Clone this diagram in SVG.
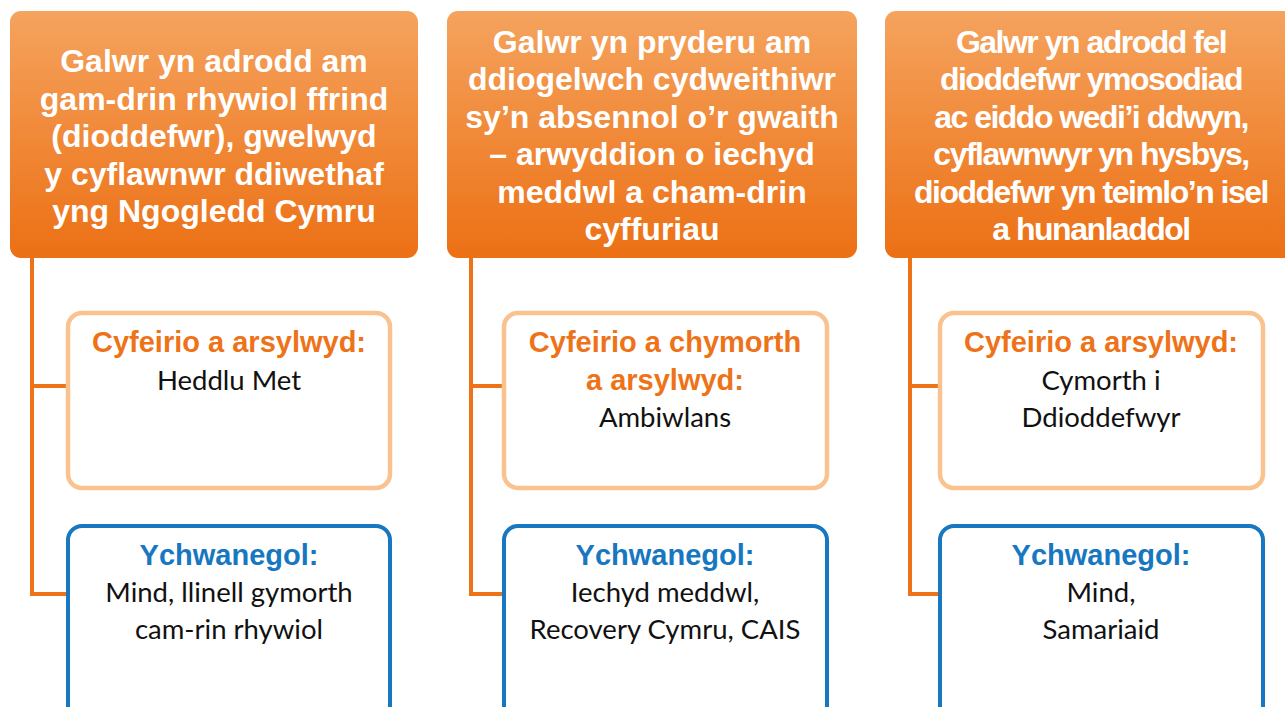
<svg xmlns="http://www.w3.org/2000/svg" width="1285" height="707" viewBox="0 0 1285 707">
<defs>
<linearGradient id="hg" x1="0" y1="0" x2="0" y2="1">
<stop offset="0" stop-color="#F5A35E"/>
<stop offset="1" stop-color="#EC7014"/>
</linearGradient>
</defs>
<style>
.hdr{fill:url(#hg);}
.ht{fill:#fff;font-family:"Liberation Sans",Arial,sans-serif;font-weight:bold;font-size:32px;text-anchor:middle;}
.ob{fill:#fff;stroke:#F9C28F;stroke-width:4.5;}
.bb{fill:#fff;stroke:#1777C0;stroke-width:4;}
.ot{fill:#EE7318;font-family:"Liberation Sans",Arial,sans-serif;font-weight:bold;font-size:29px;text-anchor:middle;}
.bt{fill:#1777C0;font-family:"Liberation Sans",Arial,sans-serif;font-weight:bold;font-size:29px;text-anchor:middle;}
.tx{fill:#111;font-family:Lato,"Open Sans",sans-serif;font-size:27.5px;text-anchor:middle;}
.cn{fill:none;stroke:#EE7318;stroke-width:4;}
</style>
<g id="connectors">
<path class="cn" d="M32 250 V594 H67 M32 386 H67"/>
<path class="cn" d="M471 250 V594 H503 M471 386 H503"/>
<path class="cn" d="M910 250 V594 H939 M910 386 H939"/>
</g>
<g id="header1">
<rect class="hdr" x="10" y="11" width="408" height="247" rx="11"/>
<text class="ht" x="214" y="72">Galwr yn adrodd am</text>
<text class="ht" x="214" y="110">gam-drin rhywiol ffrind</text>
<text class="ht" x="214" y="147">(dioddefwr), gwelwyd</text>
<text class="ht" x="214" y="185">y cyflawnwr ddiwethaf</text>
<text class="ht" x="214" y="222">yng Ngogledd Cymru</text>
</g>
<g id="header2">
<rect class="hdr" x="447" y="11" width="410" height="247" rx="11"/>
<text class="ht" x="652" y="53">Galwr yn pryderu am</text>
<text class="ht" x="652" y="90">ddiogelwch cydweithiwr</text>
<text class="ht" x="652" y="128">sy’n absennol o’r gwaith</text>
<text class="ht" x="652" y="165">– arwyddion o iechyd</text>
<text class="ht" x="652" y="203">meddwl a cham-drin</text>
<text class="ht" x="652" y="240">cyffuriau</text>
</g>
<g id="header3">
<rect class="hdr" x="885" y="11" width="412" height="247" rx="11"/>
<text class="ht" x="1091" y="53" letter-spacing="-1.5">Galwr yn adrodd fel</text>
<text class="ht" x="1091" y="90" letter-spacing="-1.5">dioddefwr ymosodiad</text>
<text class="ht" x="1091" y="128" letter-spacing="-1.5">ac eiddo wedi’i ddwyn,</text>
<text class="ht" x="1091" y="165" letter-spacing="-1.5">cyflawnwyr yn hysbys,</text>
<text class="ht" x="1091" y="203" letter-spacing="-1.5">dioddefwr yn teimlo’n isel</text>
<text class="ht" x="1091" y="240" letter-spacing="-1.5">a hunanladdol</text>
</g>
<g id="ref1">
<rect class="ob" x="68" y="313" width="322" height="175" rx="14"/>
<text class="ot" x="229" y="352">Cyfeirio a arsylwyd:</text>
<text class="tx" x="229" y="390">Heddlu Met</text>
</g>
<g id="add1">
<rect class="bb" x="68" y="526" width="322" height="200" rx="14"/>
<text class="bt" x="229" y="565">Ychwanegol:</text>
<text class="tx" x="229" y="602">Mind, llinell gymorth</text>
<text class="tx" x="229" y="639">cam-rin rhywiol</text>
</g>
<g id="ref2">
<rect class="ob" x="504" y="313" width="323" height="175" rx="14"/>
<text class="ot" x="665" y="352">Cyfeirio a chymorth</text>
<text class="ot" x="665" y="390">a arsylwyd:</text>
<text class="tx" x="665" y="427">Ambiwlans</text>
</g>
<g id="add2">
<rect class="bb" x="504" y="526" width="323" height="200" rx="14"/>
<text class="bt" x="665" y="565">Ychwanegol:</text>
<text class="tx" x="665" y="602">Iechyd meddwl,</text>
<text class="tx" x="665" y="639">Recovery Cymru, CAIS</text>
</g>
<g id="ref3">
<rect class="ob" x="940" y="313" width="323" height="175" rx="14"/>
<text class="ot" x="1101" y="352">Cyfeirio a arsylwyd:</text>
<text class="tx" x="1101" y="390">Cymorth i</text>
<text class="tx" x="1101" y="427">Ddioddefwyr</text>
</g>
<g id="add3">
<rect class="bb" x="940" y="526" width="323" height="200" rx="14"/>
<text class="bt" x="1101" y="565">Ychwanegol:</text>
<text class="tx" x="1101" y="602">Mind,</text>
<text class="tx" x="1101" y="639">Samariaid</text>
</g>
</svg>
